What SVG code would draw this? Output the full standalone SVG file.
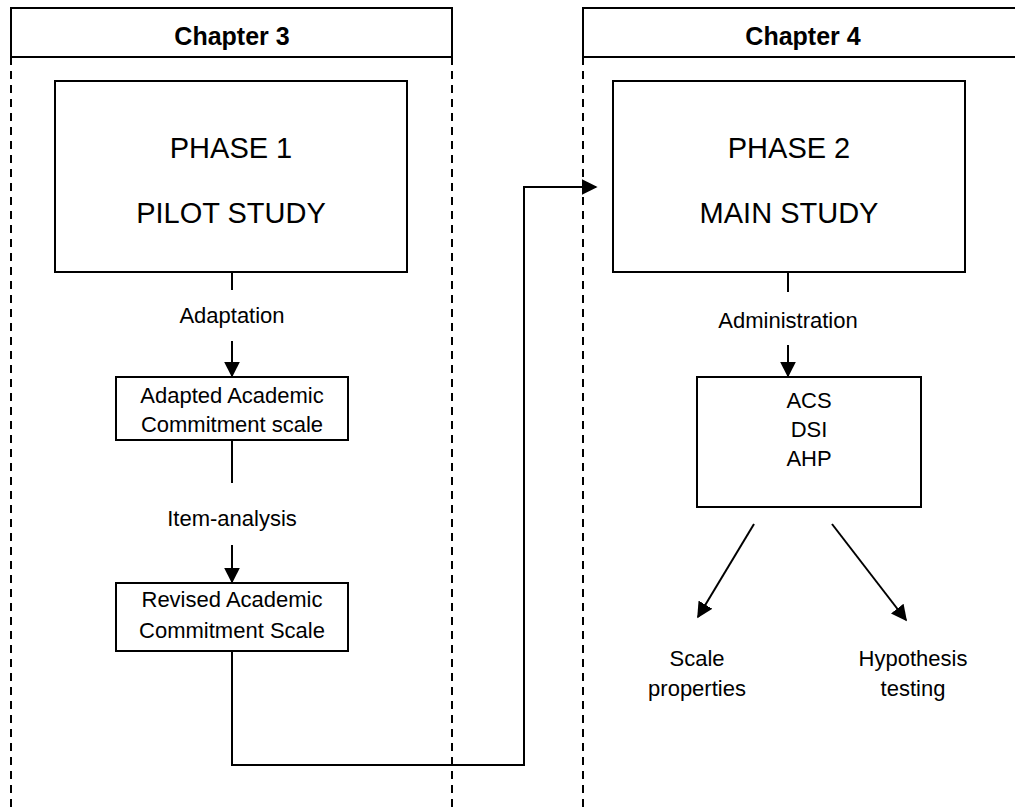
<svg xmlns="http://www.w3.org/2000/svg" width="1015" height="812" viewBox="0 0 1015 812">
<style>
.box{fill:#fff;stroke:#000;stroke-width:2}
.dash{stroke:#000;stroke-width:2;stroke-dasharray:8 6;fill:none}
.ln{stroke:#000;stroke-width:2;fill:none}
.t{font-family:"Liberation Sans",Arial,sans-serif;fill:#000;text-anchor:middle}
.h{font-size:25px;font-weight:bold}
.p{font-size:29px}
.l{font-size:22px}
</style>
<defs>
<marker id="ah" viewBox="0 0 10 10" refX="9" refY="5" markerWidth="8" markerHeight="8" markerUnits="strokeWidth" orient="auto">
<path d="M0,0 L10,5 L0,10 z" fill="#000"/>
</marker>
</defs>
<rect width="1015" height="812" fill="#fff"/>
<g id="chapter3">
<line class="dash" x1="11" y1="57" x2="11" y2="812"/>
<line class="dash" x1="452" y1="57" x2="452" y2="812"/>
<rect class="box" x="11" y="8" width="441" height="49"/>
<text class="t h" x="232" y="45">Chapter 3</text>
</g>
<g id="chapter4">
<line class="dash" x1="583" y1="57" x2="583" y2="812"/>
<rect class="box" x="583" y="8" width="440" height="49"/>
<text class="t h" x="803" y="45">Chapter 4</text>
</g>
<g id="phase1">
<rect class="box" x="55" y="81" width="352" height="191"/>
<text class="t p" x="231" y="158">PHASE 1</text>
<text class="t p" x="231" y="223">PILOT STUDY</text>
</g>
<g id="adapted">
<rect class="box" x="116" y="377" width="232" height="63"/>
<text class="t l" x="232" y="403">Adapted Academic</text>
<text class="t l" x="232" y="432">Commitment scale</text>
</g>
<g id="revised">
<rect class="box" x="116" y="583" width="232" height="68"/>
<text class="t l" x="232" y="607">Revised Academic</text>
<text class="t l" x="232" y="638">Commitment Scale</text>
</g>
<g id="phase2">
<rect class="box" x="613" y="81" width="352" height="191"/>
<text class="t p" x="789" y="158">PHASE 2</text>
<text class="t p" x="789" y="223">MAIN STUDY</text>
</g>
<g id="measures">
<rect class="box" x="697" y="377" width="224" height="130"/>
<text class="t l" x="809" y="408">ACS</text>
<text class="t l" x="809" y="437">DSI</text>
<text class="t l" x="809" y="466">AHP</text>
</g>
<g id="scale-properties">
<text class="t l" x="697" y="666">Scale</text>
<text class="t l" x="697" y="696">properties</text>
</g>
<g id="hypothesis-testing">
<text class="t l" x="913" y="666">Hypothesis</text>
<text class="t l" x="913" y="696">testing</text>
</g>
<g id="connectors">
<line class="ln" x1="232" y1="272" x2="232" y2="290"/>
<text class="t l" x="232" y="323">Adaptation</text>
<line class="ln" x1="232" y1="341" x2="232" y2="376" marker-end="url(#ah)"/>
<line class="ln" x1="232" y1="440" x2="232" y2="483"/>
<text class="t l" x="232" y="526">Item-analysis</text>
<line class="ln" x1="232" y1="545" x2="232" y2="582" marker-end="url(#ah)"/>
<polyline class="ln" points="232,651 232,765 524,765 524,187 596,187" marker-end="url(#ah)"/>
<line class="ln" x1="788" y1="272" x2="788" y2="292"/>
<text class="t l" x="788" y="328">Administration</text>
<line class="ln" x1="788" y1="345" x2="788" y2="376" marker-end="url(#ah)"/>
<line class="ln" x1="754" y1="524" x2="698" y2="617" marker-end="url(#ah)"/>
<line class="ln" x1="832" y1="524" x2="906" y2="620" marker-end="url(#ah)"/>
</g>
</svg>
